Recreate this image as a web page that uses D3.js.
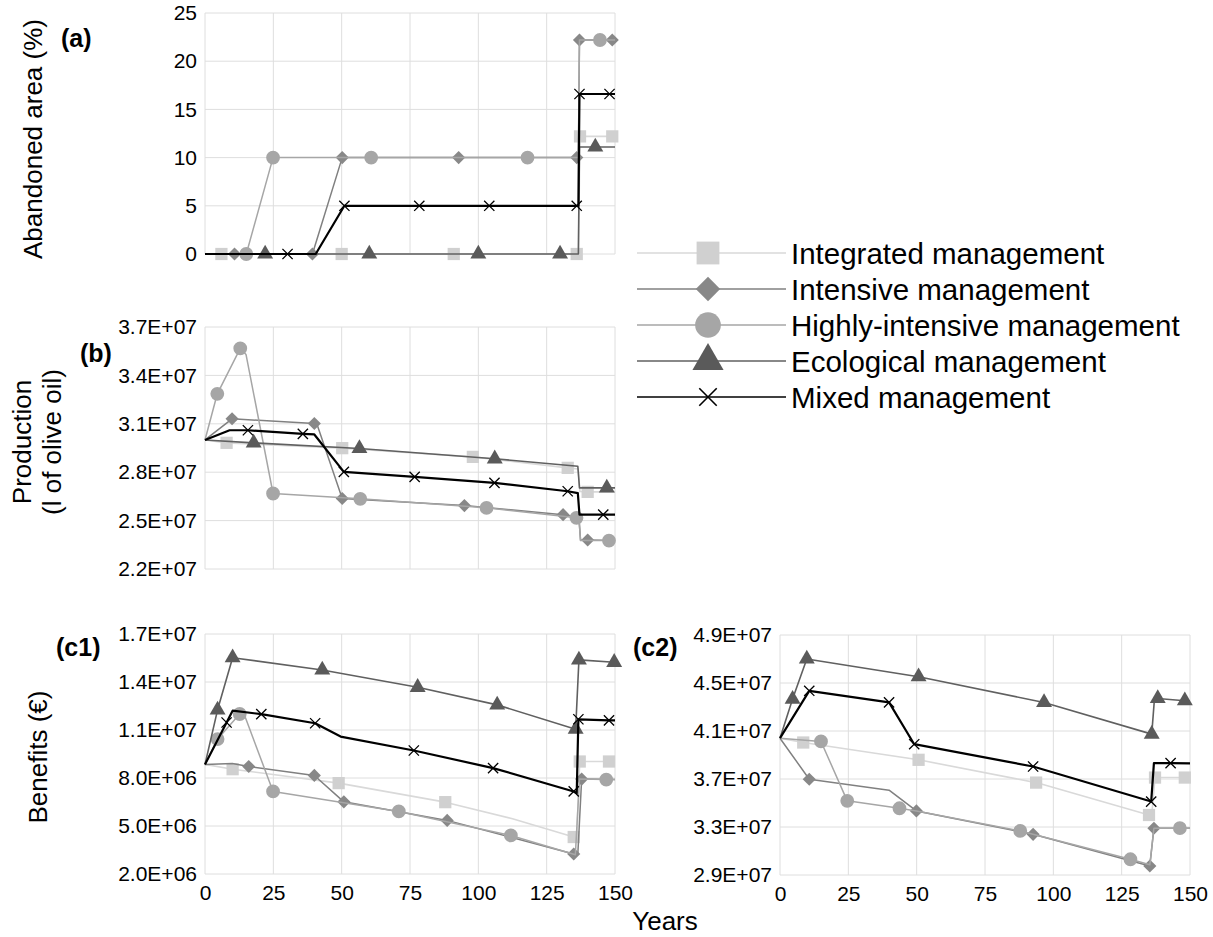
<!DOCTYPE html>
<html lang="en">
<head>
<meta charset="UTF-8">
<title>Management scenarios</title>
<script src="https://cdn.jsdelivr.net/npm/d3@7"></script>
<style>
  body { margin: 0; background: #fff; }
  svg text { font-family: "Liberation Sans", Arial, sans-serif; fill: #000; }
</style>
</head>
<body>
<div id="mainContent"></div>
<script>
const seriesNames = ["Integrated management", "Intensive management",
    "Highly-intensive management", "Ecological management", "Mixed management"];
const xTicks = [0, 25, 50, 75, 100, 125, 150];
const abandonedTicks = [0, 5, 10, 15, 20, 25];
const productionTicks = [22, 25, 28, 31, 34, 37];      // millions
const benefits1Ticks = [2, 5, 8, 11, 14, 17];          // millions
const benefits2Ticks = [29, 33, 37, 41, 45, 49];       // millions

// points: [year, value, has marker]
const abandonedIntegrated = [[0,0,0],[6,0,1],[50,0,1],[91,0,1],[136,0,1],[136.6,0,0],[137.2,12.2,1],[149,12.2,1],[150,12.2,0]];
const abandonedIntensive = [[0,0,0],[10.8,0,1],[39.3,0,1],[50.2,10,1],[92.8,10,1],[136,10,1],[136.6,10,0],[137,22.2,1],[149,22.2,1],[150,22.2,0]];
const abandonedHighly = [[0,0,0],[15.1,0,1],[24.9,10,1],[60.8,10,1],[118,10,1],[136.6,10,0],[137,22.2,0],[144.5,22.2,1],[150,22.2,0]];
const abandonedEcological = [[0,0,0],[22,0,1],[60.1,0,1],[100,0,1],[129.9,0,1],[136.6,0,0],[137,11.1,0],[142.8,11.1,1],[150,11.1,0]];
const abandonedMixed = [[0,0,0],[30.2,0,1],[40.5,0,0],[51,5,1],[78.4,5,1],[104,5,1],[136,5,1],[136.6,5,0],[137,16.6,1],[148,16.6,1],[150,16.6,0]];

const productionIntegrated = [[0,30,0],[7.9,29.82,1],[50.2,29.49,1],[98,28.95,1],[132.7,28.27,1],[136.5,28.2,0],[137.2,26.8,0],[140,26.78,1],[150,26.78,0]];
const productionIntensive = [[0,30,0],[9.9,31.31,1],[40,31.02,1],[41,30.95,0],[50.2,26.37,1],[94.9,25.93,1],[131,25.37,1],[136.8,25.2,0],[137.4,23.78,0],[140,23.8,1],[150,23.76,0]];
const productionHighly = [[0,30,0],[4.5,32.86,1],[12.9,35.68,1],[15,35.3,0],[24.9,26.68,1],[56.8,26.35,1],[103,25.79,1],[135.9,25.17,1],[136.8,25.15,0],[137.4,23.76,0],[147.8,23.76,1],[150,23.76,0]];
const productionEcological = [[0,30,0],[17.8,29.82,1],[56.5,29.47,1],[106,28.83,1],[136.4,28.37,0],[137,27.03,0],[147,27.03,1],[150,27.03,0]];
const productionMixed = [[0,30,0],[9,30.6,0],[15.7,30.6,1],[35.8,30.38,1],[40,30.34,0],[50.8,28.02,1],[76.7,27.71,1],[105.9,27.34,1],[132.7,26.82,1],[136.4,26.7,0],[137,25.37,0],[145.7,25.37,1],[150,25.37,0]];

const benefits1Integrated = [[0,8.85,0],[10.1,8.55,1],[48.9,7.68,1],[87.9,6.49,1],[112.5,5.45,0],[134.9,4.31,1],[136,4.3,0],[137.1,9.03,1],[147.8,9.03,1],[150,9.03,0]];
const benefits1Intensive = [[0,8.85,0],[10,8.9,0],[16,8.72,1],[40,8.16,1],[50.8,6.51,1],[88.6,5.35,1],[134.9,3.25,1],[136.4,3.25,0],[137.8,7.93,1],[150,7.9,0]];
const benefits1Highly = [[0,8.85,0],[4.6,10.43,1],[12.7,12.0,1],[14.5,11.9,0],[24.9,7.16,1],[70.9,5.91,1],[111.9,4.41,1],[135.5,3.2,0],[137,7.93,0],[146.8,7.9,1],[150,7.9,0]];
const benefits1Ecological = [[0,8.85,0],[4.6,12.26,1],[10.1,15.52,1],[42.9,14.75,1],[77.8,13.67,1],[106.9,12.57,1],[135.6,11.05,1],[136.8,15.38,1],[149.7,15.23,1],[150,15.23,0]];
const benefits1Mixed = [[0,8.85,0],[7.9,11.47,1],[10.1,12.21,0],[20.6,11.99,1],[40.3,11.42,1],[49.6,10.59,0],[76.4,9.72,1],[105.4,8.62,1],[134.9,7.16,1],[136,7.05,0],[136.6,11.67,1],[147.8,11.6,1],[150,11.6,0]];

const benefits2Integrated = [[0,40.4,0],[8.5,40.04,1],[50.7,38.6,1],[93.7,36.7,1],[135,34.0,1],[136,34.0,0],[137.2,37.12,1],[148.1,37.12,1],[150,37.12,0]];
const benefits2Intensive = [[0,40.4,0],[10.7,36.98,1],[39.9,36.07,0],[49.9,34.34,1],[92.6,32.39,1],[135.3,29.75,1],[136.8,32.9,1],[150,32.9,0]];
const benefits2Highly = [[0,40.4,0],[15,40.13,1],[24.6,35.18,1],[43.7,34.56,1],[49.9,34.34,0],[87.9,32.67,1],[128.2,30.31,1],[135.3,29.85,0],[136.8,32.9,0],[146.3,32.9,1],[150,32.9,0]];
const benefits2Ecological = [[0,40.4,0],[4.6,43.66,1],[9.8,47.0,1],[50.7,45.52,1],[96.6,43.38,1],[136,40.74,1],[137,43.7,0],[138.2,43.71,1],[148.1,43.52,1],[150,43.5,0]];
const benefits2Mixed = [[0,40.4,0],[10.7,44.35,1],[39.9,43.38,1],[49.1,39.9,1],[92.6,38.04,1],[135.8,35.12,1],[136.8,38.32,0],[142.9,38.32,1],[150,38.3,0]];

// styling per series
const lineColors = ["#d9d9d9", "#808080", "#a6a6a6", "#606060", "#000000"];
const markColors = ["#d0d0d0", "#888888", "#a6a6a6", "#5a5a5a", "#000000"];
const lineWidths = [1.6, 1.5, 1.5, 1.6, 2.2];
const symbols = [d3.symbolSquare, d3.symbolDiamond2, d3.symbolCircle, d3.symbolTriangle, d3.symbolTimes];
const markSizes = [150, 110, 150, 110, 70];
const legendSizes = [520, 380, 520, 420, 200];

// E+07 style tick labels
function sci(d) {
    const s = (d * 1e6).toExponential(1).toUpperCase();   // "3.7E+7"
    return s.replace(/E([+-])(\d)$/, "E$10$2");
}

const width = 410;
const panels = [
    {left: 205, top: 13, height: 241, domain: [0, 25], ticks: abandonedTicks, fmt: d => d, showX: false,
        series: [abandonedIntegrated, abandonedIntensive, abandonedHighly, abandonedEcological, abandonedMixed]},
    {left: 205, top: 327, height: 242, domain: [22, 37], ticks: productionTicks, fmt: sci, showX: false,
        series: [productionIntegrated, productionIntensive, productionHighly, productionEcological, productionMixed]},
    {left: 205, top: 634, height: 240, domain: [2, 17], ticks: benefits1Ticks, fmt: sci, showX: true,
        series: [benefits1Integrated, benefits1Intensive, benefits1Highly, benefits1Ecological, benefits1Mixed]},
    {left: 780, top: 635, height: 240, domain: [29, 49], ticks: benefits2Ticks, fmt: sci, showX: true,
        series: [benefits2Integrated, benefits2Intensive, benefits2Highly, benefits2Ecological, benefits2Mixed]}
];

const svg = d3.select("#mainContent").append("svg")
    .attr("width", 1213)
    .attr("height", 937);

panels.forEach(p => {
    const g = svg.append("g").attr("transform", "translate(" + p.left + "," + p.top + ")");
    const x = d3.scaleLinear().domain([0, 150]).range([0, width]);
    const y = d3.scaleLinear().domain(p.domain).range([p.height, 0]);

    // grid
    g.append("g").selectAll("line").data(p.ticks).enter().append("line")
        .attr("x1", 0).attr("x2", width)
        .attr("y1", d => y(d)).attr("y2", d => y(d))
        .attr("stroke", "#dedede").attr("stroke-width", 1);
    g.append("g").selectAll("line").data(xTicks).enter().append("line")
        .attr("x1", d => x(d)).attr("x2", d => x(d))
        .attr("y1", 0).attr("y2", p.height)
        .attr("stroke", "#dedede").attr("stroke-width", 1);

    const yAxis = g.append("g")
        .call(d3.axisLeft(y).tickValues(p.ticks).tickSize(0).tickPadding(8).tickFormat(p.fmt));
    yAxis.select(".domain").remove();
    yAxis.selectAll("text").attr("font-size", 21).attr("font-family", "Liberation Sans, Arial, sans-serif");

    if (p.showX) {
        const xAxis = g.append("g").attr("transform", "translate(0," + p.height + ")")
            .call(d3.axisBottom(x).tickValues(xTicks).tickSize(0).tickPadding(11));
        xAxis.select(".domain").remove();
        xAxis.selectAll("text").attr("font-size", 21).attr("font-family", "Liberation Sans, Arial, sans-serif");
    }

    const line = d3.line().x(d => x(d[0])).y(d => y(d[1]));

    p.series.forEach((s, i) => {
        g.append("path")
            .attr("d", line(s))
            .attr("fill", "none")
            .attr("stroke", lineColors[i])
            .attr("stroke-width", lineWidths[i])
            .attr("stroke-linejoin", "round");
        const sym = d3.symbol().type(symbols[i]).size(markSizes[i]);
        g.append("g").selectAll("path").data(s.filter(d => d[2])).enter().append("path")
            .attr("transform", d => "translate(" + x(d[0]) + "," + y(d[1]) + ")")
            .attr("d", sym)
            .attr("fill", i === 4 ? "none" : markColors[i])
            .attr("stroke", i === 4 ? "#000" : "none")
            .attr("stroke-width", 1.3);
    });
});

// panel letters
const letters = [["(a)", 61, 47], ["(b)", 80, 362], ["(c1)", 56, 656], ["(c2)", 633, 656]];
svg.append("g").selectAll("text").data(letters).enter().append("text")
    .attr("x", d => d[1]).attr("y", d => d[2])
    .attr("font-size", 25).attr("font-weight", "bold")
    .text(d => d[0]);

// axis titles
function vTitle(txt, cx, cy) {
    svg.append("text").text(txt)
        .attr("transform", "translate(" + cx + "," + cy + ") rotate(-90)")
        .attr("text-anchor", "middle")
        .attr("dominant-baseline", "central")
        .attr("font-size", 26);
}
vTitle("Abandoned area (%)", 33, 139);
vTitle("Production", 22, 442);
vTitle("(l of olive oil)", 52, 442);
vTitle("Benefits (€)", 38, 757);

svg.append("text").text("Years")
    .attr("x", 665).attr("y", 930)
    .attr("text-anchor", "middle")
    .attr("font-size", 26);

// legend
const legend = svg.append("g");
seriesNames.forEach((name, i) => {
    const cy = 253 + i * 36;
    legend.append("line")
        .attr("x1", 637).attr("x2", 786).attr("y1", cy).attr("y2", cy)
        .attr("stroke", lineColors[i]).attr("stroke-width", 1.5);
    legend.append("path")
        .attr("transform", "translate(708," + cy + ")")
        .attr("d", d3.symbol().type(symbols[i]).size(legendSizes[i]))
        .attr("fill", i === 4 ? "none" : markColors[i])
        .attr("stroke", i === 4 ? "#000" : "none")
        .attr("stroke-width", 1.6);
    legend.append("text")
        .attr("x", 791).attr("y", cy)
        .attr("dominant-baseline", "central")
        .attr("font-size", 29.5)
        .text(name);
});
</script>
</body>
</html>
